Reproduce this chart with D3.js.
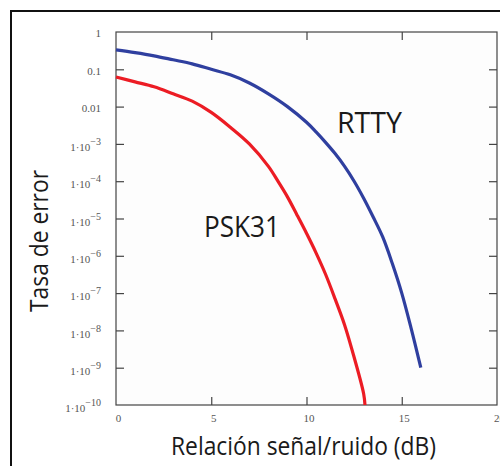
<!DOCTYPE html>
<html>
<head>
<meta charset="utf-8">
<script src="https://cdn.jsdelivr.net/npm/d3@7"></script>
<style>
  body { margin: 0; background: #ffffff; }
  svg { display: block; }
</style>
</head>
<body>
<div id="content"></div>
<script>
// Datos
const snrRTTY = [0, 1, 2, 3, 4, 5, 6, 7, 8, 9, 10, 10.5, 11, 11.5, 12, 12.5, 13, 13.5, 14, 14.5, 15, 15.5, 16];
const berRTTY = [0.33, 0.28, 0.23, 0.18, 0.14, 0.1, 0.071, 0.043, 0.022, 0.01, 3.8e-3, 2.1e-3, 1.1e-3, 5.5e-4, 2.5e-4, 1e-4, 3.5e-5, 1.1e-5, 3.2e-6, 6.3e-7, 1e-7, 1.1e-8, 1e-9];

const snrPSK31 = [0, 1, 2, 3, 4, 5, 6, 7, 8, 8.5, 9, 9.5, 10, 10.5, 11, 11.5, 12, 12.5, 13, 13.07];
const berPSK31 = [0.062, 0.046, 0.034, 0.022, 0.014, 7e-3, 2.8e-3, 1e-3, 2.5e-4, 1e-4, 3.8e-5, 1.25e-5, 4e-6, 1.2e-6, 3.2e-7, 7e-8, 1.4e-8, 1.9e-9, 2e-10, 1e-10];

const xTicks = [0, 5, 10, 15, 20];
const yTicks = [1, 0.1, 0.01, 1e-3, 1e-4, 1e-5, 1e-6, 1e-7, 1e-8, 1e-9, 1e-10];

const drawSVG = () => {
    const width = 500;
    const height = 466;
    const margin = { top: 32, left: 116, plotW: 381, plotH: 373 };

    const svg = d3.select('#content')
                  .append('svg')
                  .attr('width', width)
                  .attr('height', height);

    // Marco exterior (se sale de la imagen por la derecha y abajo)
    svg.append('rect')
       .attr('x', 11)
       .attr('y', 11)
       .attr('width', 520)
       .attr('height', 480)
       .attr('fill', '#ffffff')
       .attr('stroke', '#111')
       .attr('stroke-width', 2);

    const x = d3.scaleLinear().domain([0, 20]).range([0, margin.plotW]);
    const y = d3.scaleLog().domain([1e-10, 1]).range([margin.plotH, 0]);

    const g = svg.append('g')
                 .attr('transform', `translate(${margin.left}, ${margin.top})`);

    g.append('rect')
     .attr('width', margin.plotW)
     .attr('height', margin.plotH)
     .attr('fill', '#fdfdfd')
     .attr('stroke', '#444')
     .attr('stroke-width', 1.2);

    // Ejes con marcas hacia dentro
    const styleAxis = sel => {
        sel.select('.domain').remove();
        sel.selectAll('.tick line').attr('stroke', '#444').attr('stroke-width', 1.2);
        sel.selectAll('text')
           .attr('fill', '#555')
           .style('font-family', '"Liberation Serif", "DejaVu Serif", serif')
           .style('font-size', '11px');
    };

    const inner = [5, 10, 15];

    g.append('g')
     .attr('transform', `translate(0, ${margin.plotH})`)
     .call(d3.axisBottom(x).tickValues(xTicks).tickSize(-8).tickPadding(9))
     .call(styleAxis)
     .call(sel => sel.selectAll('.tick line').filter(d => d === 0 || d === 20).remove())
     .call(sel => sel.selectAll('text').attr('dx', 2));

    g.append('g')
     .call(d3.axisTop(x).tickValues(inner).tickSize(-8).tickFormat(''))
     .call(styleAxis);

    const yAxis = g.append('g')
     .call(d3.axisLeft(y).tickValues(yTicks).tickSize(-8).tickPadding(15))
     .call(styleAxis)
     .call(sel => sel.selectAll('.tick line').filter(d => d === 1 || d === 1e-10).remove());

    // Etiquetas estilo Mathcad: 1·10^-n
    yAxis.selectAll('.tick text').each(function(d) {
        const t = d3.select(this).text('');
        const e = Math.round(Math.log10(d));
        if (e >= -2) {
            t.text(e === 0 ? '1' : d3.format('.2~f')(d)).attr('dy', '0.45em');
        } else {
            t.attr('dy', '0.6em');
            t.append('tspan').text('1\u00b710');
            t.append('tspan')
             .attr('dy', '-0.6em')
             .style('font-size', '10px')
             .text('\u2212' + (-e));
        }
    });

    g.append('g')
     .attr('transform', `translate(${margin.plotW}, 0)`)
     .call(d3.axisRight(y).tickValues(yTicks.slice(1, -1)).tickSize(-8).tickFormat(''))
     .call(styleAxis);

    // Curvas
    const line = d3.line()
                   .x(d => x(d[0]))
                   .y(d => y(d[1]))
                   .curve(d3.curveCatmullRom.alpha(0.5));

    const series = [
        { name: 'RTTY', snr: snrRTTY, ber: berRTTY, color: '#2f3f9f' },
        { name: 'PSK31', snr: snrPSK31, ber: berPSK31, color: '#ec1c24' }
    ];

    series.forEach(s => {
        g.append('path')
         .datum(d3.zip(s.snr, s.ber))
         .attr('d', line)
         .attr('fill', 'none')
         .attr('stroke', s.color)
         .attr('stroke-width', 3.2)
         .attr('stroke-linejoin', 'round');
    });

    // Textos grandes
    const big = '"Open Sans", "Noto Sans", sans-serif';

    svg.append('text')
       .attr('x', 337)
       .attr('y', 133)
       .attr('textLength', 65)
       .attr('lengthAdjust', 'spacingAndGlyphs')
       .attr('fill', '#1a1a1a')
       .style('font-family', big)
       .style('font-size', '30px')
       .text('RTTY');

    svg.append('text')
       .attr('x', 204)
       .attr('y', 237)
       .attr('textLength', 76)
       .attr('lengthAdjust', 'spacingAndGlyphs')
       .attr('fill', '#1a1a1a')
       .style('font-family', big)
       .style('font-size', '30px')
       .text('PSK31');

    svg.append('text')
       .attr('x', 171)
       .attr('y', 455)
       .attr('textLength', 265)
       .attr('lengthAdjust', 'spacingAndGlyphs')
       .attr('fill', '#1a1a1a')
       .style('font-family', big)
       .style('font-size', '25px')
       .text('Relación señal/ruido (dB)');

    svg.append('text')
       .attr('transform', 'translate(48, 312) rotate(-90)')
       .attr('textLength', 142)
       .attr('lengthAdjust', 'spacingAndGlyphs')
       .attr('fill', '#1a1a1a')
       .style('font-family', big)
       .style('font-size', '25px')
       .text('Tasa de error');
};

document.addEventListener('DOMContentLoaded', drawSVG);
</script>
</body>
</html>
